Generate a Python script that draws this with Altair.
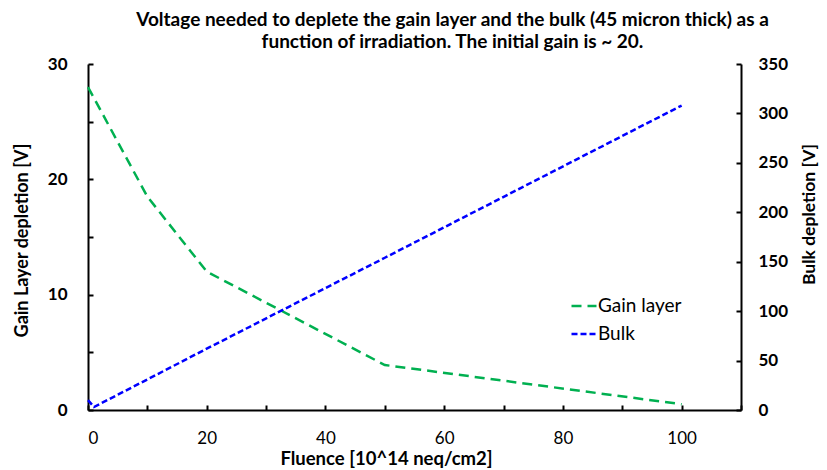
import altair as alt
import pandas as pd

series_names = ["Gain layer", "Bulk"]
series_colors = ["#00B050", "#0000FF"]

fluence_gain = [0, 10, 20, 50, 100]
gain_layer = [28, 18.5, 12, 3.9, 0.5]

fluence_bulk = [0, 1, 20, 50, 100]
bulk = [10, 3, 62, 154, 308]

x_ticks = list(range(0, 111, 10))
left_ticks = list(range(0, 31, 5))
right_ticks = list(range(0, 351, 50))

title_lines = [
    "Voltage needed to deplete the gain layer and the bulk (45 micron thick) as a",
    "function of irradiation. The initial gain is ~ 20.",
]

FONT = "Lato"
LBL = 17

df_gain = pd.DataFrame({"fluence": fluence_gain, "value": gain_layer, "series": series_names[0]})
df_bulk = pd.DataFrame({"fluence": fluence_bulk, "value": bulk, "series": series_names[1]})

legend = alt.Legend(
    title=None, orient="none", legendX=482, legendY=228,
    symbolType="stroke", symbolSize=625, symbolStrokeWidth=2.5,
    labelFont=FONT, labelFontSize=19, labelColor="black", labelOffset=0,
    rowPadding=4, padding=0,
)

color_enc = alt.Color(
    "series:N",
    scale=alt.Scale(domain=series_names, range=series_colors),
    legend=legend,
)
dash_enc = alt.StrokeDash(
    "series:N",
    scale=alt.Scale(domain=series_names, range=[[10, 6], [6, 3]]),
    legend=legend,
)

x_enc = alt.X(
    "fluence:Q",
    scale=alt.Scale(domain=[0, 110], nice=False),
    axis=alt.Axis(
        values=x_ticks,
        labelExpr="datum.value % 20 == 0 && datum.value <= 100 ? datum.label : ''",
        title="Fluence [10^14 neq/cm2]",
        titleFont=FONT, titleFontSize=18.5, titleFontWeight="bold", titleColor="black",
        titleX=298, titleY=48, titleBaseline="middle", titleAlign="center",
        labelFont=FONT, labelFontSize=LBL, labelColor="black", labelPadding=25,
        domainColor="black", domainWidth=2, tickColor="black", tickWidth=2,
        tickSize={"expr": "-5"}, grid=False,
    ),
)

gain_line = alt.Chart(df_gain).mark_line(strokeWidth=2.5).encode(
    x=x_enc,
    y=alt.Y(
        "value:Q",
        scale=alt.Scale(domain=[0, 30], nice=False),
        axis=alt.Axis(
            orient="left", values=left_ticks,
            labelExpr="datum.value % 10 == 0 ? datum.label : ''",
            title="Gain Layer depletion [V]",
            titleFont=FONT, titleFontSize=18, titleFontWeight="bold", titleColor="black",
            titleX=-66, titleY=176, titleBaseline="middle", titleAlign="center", titleAngle=270,
            labelFont=FONT, labelFontSize=LBL, labelFontWeight="bold", labelColor="black",
            labelPadding=26,
            domainColor="black", domainWidth=2, tickColor="black", tickWidth=2,
            tickSize={"expr": "-5"}, grid=False,
        ),
    ),
    color=color_enc,
    strokeDash=dash_enc,
)

bulk_line = alt.Chart(df_bulk).mark_line(strokeWidth=2.5).encode(
    x=x_enc,
    y=alt.Y(
        "value:Q",
        scale=alt.Scale(domain=[0, 350], nice=False),
        axis=alt.Axis(
            orient="right", values=right_ticks,
            title="Bulk depletion [V]",
            titleFont=FONT, titleFontSize=17.5, titleFontWeight="bold", titleColor="black",
            titleX=68, titleY=150, titleBaseline="middle", titleAlign="center", titleAngle=270,
            labelFont=FONT, labelFontSize=LBL, labelFontWeight="bold", labelColor="black",
            labelPadding=22,
            domainColor="black", domainWidth=2, tickColor="black", tickWidth=2,
            tickSize={"expr": "-5"}, grid=False,
        ),
    ),
    color=color_enc,
    strokeDash=dash_enc,
)

chart = (
    alt.layer(gain_line, bulk_line)
    .resolve_scale(y="independent")
    .properties(
        width=653,
        height=346,
        autosize=alt.AutoSizeParams(type="none"),
        padding={"left": 80, "top": 56, "right": 78, "bottom": 58},
        title=alt.TitleParams(
            text=title_lines, font=FONT, fontSize=19, fontWeight="bold", color="black",
            anchor="middle", dx=38, offset=3, lineHeight=22,
        ),
    )
    .configure_view(strokeWidth=0)
)

chart.save("out.html", embed_options={"renderer": "svg", "actions": False})
